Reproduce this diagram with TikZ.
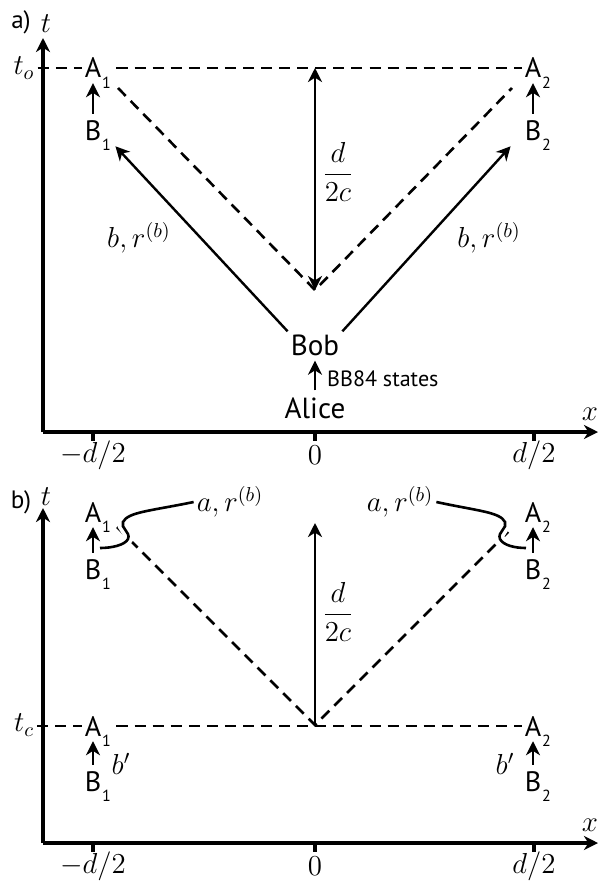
\documentclass[tikz,border=0pt]{standalone}
\usepackage{fontspec}
\setsansfont{PT Sans}
\usetikzlibrary{arrows.meta}
\newcommand{\evsub}[1]{\rlap{\smash{\raisebox{-5pt}{\fontsize{8}{8}\selectfont\kern0.5pt #1}}}}

\begin{document}
\begin{tikzpicture}[x=0.0175cm, y=-0.0175cm, >={Stealth[length=7pt, width=7pt, inset=2.2pt]}, line width=1.2pt,
		every node/.style={inner sep=1pt, font=\fontsize{14}{17}\selectfont},
		tag/.style={font=\sffamily\fontsize{12.5}{15}\selectfont},
		ev/.style={font=\sffamily\fontsize{14}{16}\selectfont},
		who/.style={font=\sffamily\fontsize{14.5}{17}\selectfont},
		axis/.style={line width=1.6pt},
		cone/.style={line width=1.3pt, dash pattern=on 5.5pt off 3.5pt},
		kick/.style={->, shorten <=2pt, shorten >=1pt},
		link/.style={line width=1.3pt, preaction={draw=white, line width=5pt}}]
	\useasboundingbox (0,0) rectangle (600,882);
	
	% ===== a) =====
	% 坐标轴
	\node[tag] (pa) at (21,22) {a)};
	\node (tta) at (46,24) {$t$};
	\coordinate (Oa) at (43,432);
	\draw[axis,->] (Oa) -- (43,38);
	\draw[axis,->] (Oa) -- (598,432);
	\node (xa) at (590,414) {$x$};
	\foreach \x/\lab/\nm in {93/{$-d/2$}/m, 315/{$0$}/z, 534/{$d/2$}/p} {
		\draw[axis] (\x,432) -- (\x,441);
		\node (ta\nm) at (\x,455) {\lab};
	}
	
	% 事件点
	\node[ev] (A1) at (93,68) {A\evsub{1}};
	\node[ev] (B1) at (93,131) {B\evsub{1}};
	\node[ev] (A2) at (533,68) {A\evsub{2}};
	\node[ev] (B2) at (533,131) {B\evsub{2}};
	\draw[kick] (B1) -- (A1);
	\draw[kick] (B2) -- (A2);
	
	% t_o 与光锥
	\node (toa) at (24,68) {$t_o$};
	\draw[cone] (toa.east |- A1) -- (A1);
	\draw[cone, shorten <=6pt] (A1) -- (A2);
	\coordinate (Va) at (315,290);
	\coordinate (Ta) at (315,68);
	\draw[cone] (118,88) -- (Va) -- (512,88);
	\draw[<->] (Ta) -- (Va);
	\node (dca) at (338,172) {$\displaystyle\frac{d}{2c}$};
	
	% Bob, Alice
	\node[who] (Bob) at (315,345) {Bob};
	\node[who] (Alice) at (315,408) {Alice};
	\draw[kick] (Alice) -- (Bob);
	\node[font=\sffamily\fontsize{11}{13}\selectfont, anchor=west] (bb) at (324,379) {BB84 states};
	\draw[->] (Bob.north west) -- ([shift={(11,2)}]B1.south east);
	\draw[->] (Bob.north east) -- ([shift={(-11,2)}]B2.south west);
	\node (brl) at (139,238) {$b,r^{(b)}$};
	\node (brr) at (489,238) {$b,r^{(b)}$};
	
	% ===== b) =====
	% 坐标轴
	\node[tag] (pb) at (21,502) {b)};
	\node (ttb) at (46,497) {$t$};
	\coordinate (Ob) at (43,843);
	\draw[axis,->] (Ob) -- (43,508);
	\draw[axis,->] (Ob) -- (598,843);
	\node (xb) at (590,825) {$x$};
	\foreach \x/\lab/\nm in {93/{$-d/2$}/m, 315/{$0$}/z, 534/{$d/2$}/p} {
		\draw[axis] (\x,843) -- (\x,852);
		\node (tb\nm) at (\x,866) {\lab};
	}
	
	% 上方事件点
	\node[ev] (A1b) at (93,512) {A\evsub{1}};
	\node[ev] (B1b) at (93,570) {B\evsub{1}};
	\node[ev] (A2b) at (533,512) {A\evsub{2}};
	\node[ev] (B2b) at (533,570) {B\evsub{2}};
	\draw[kick] (B1b) -- (A1b);
	\draw[kick] (B2b) -- (A2b);
	
	% 光锥
	\coordinate (Vb) at (315,725);
	\coordinate (Tb) at (315,523);
	\draw[cone] (117,527) -- (Vb) -- (512,528);
	\draw[->] (Vb) -- (Tb);
	\node (dcb) at (338,612) {$\displaystyle\frac{d}{2c}$};
	
	% 标注 a, r^(b)
	\node (arl) at (230,502) {$a,r^{(b)}$};
	\node (arr) at (400,502) {$a,r^{(b)}$};
	\coordinate (cl) at (100,548);
	\coordinate (cr) at (526,548);
	\draw[link] (arl.west) .. controls (150,511) and (128,512) .. (123,522)
		.. controls (120,528) and (131,532) .. (128,539)
		.. controls (125,545) and (112,548) .. (cl);
	\draw[link] (arr.east) .. controls (478,511) and (500,512) .. (505,522)
		.. controls (508,528) and (497,532) .. (500,539)
		.. controls (503,545) and (514,548) .. (cr);
	
	% t_c
	\node (tcb) at (24,725) {$t_c$};
	\node[ev] (A1c) at (93,726) {A\evsub{1}};
	\node[ev] (B1c) at (93,782) {B\evsub{1}};
	\node[ev] (A2c) at (533,726) {A\evsub{2}};
	\node[ev] (B2c) at (533,782) {B\evsub{2}};
	\draw[kick] (B1c) -- (A1c);
	\draw[kick] (B2c) -- (A2c);
	\draw[cone] (tcb.east |- A1c) -- (A1c);
	\draw[cone, shorten <=6pt] (A1c) -- (A2c);
	\node (bpl) at (121,764) {$b'$};
	\node (bpr) at (505,764) {$b'$};
\end{tikzpicture}
\end{document}
